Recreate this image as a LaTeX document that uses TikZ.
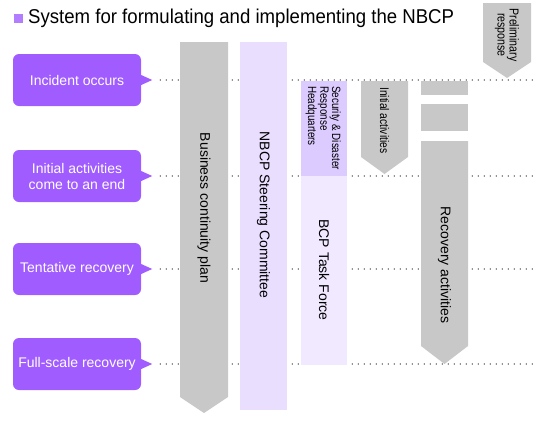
\documentclass[tikz,border=0pt]{standalone}
\usepackage{fontspec}
\setmainfont{Liberation Sans}
\newfontfamily\narrowfont[FakeStretch=0.82]{Liberation Sans}
\newfontfamily\titlefont[FakeStretch=0.93]{Liberation Sans}
\definecolor{bubble}{HTML}{A05CFF}
\definecolor{colgray}{HTML}{C8C8C8}
\definecolor{steer}{HTML}{EADEFF}
\definecolor{hq}{HTML}{DCCBFF}
\definecolor{task}{HTML}{F1E9FF}
\tikzset{
  event/.style={fill=bubble, rounded corners=6pt, minimum width=128pt,
    minimum height=52pt, text=white, align=center, inner sep=0pt,
    font=\fontsize{14}{16}\selectfont},
  timeline/.style={line cap=round, dash pattern=on 0pt off 6pt, line width=1.2pt},
  vlabel/.style={rotate=-90, inner sep=0pt, font=\fontsize{14}{16}\selectfont},
  nlabel/.style={rotate=-90, inner sep=0pt, font=\narrowfont\fontsize{12.5}{10}\selectfont}
}
\begin{document}
\begin{tikzpicture}[x=1pt, y=-1pt]
  \useasboundingbox (0,0) rectangle (543,434);
  % Title
  \fill[bubble!80] (14,14) rectangle (23,23);
  \node[anchor=west, inner sep=0pt, font=\titlefont\fontsize{20}{22}\selectfont] (title) at (28,18.5)
    {System for formulating and implementing the NBCP};
  % Phases on the left
  \node[event] (ev1) at (77,80) {Incident occurs};
  \node[event] (ev2) at (77,176) {Initial activities\\come to an end};
  \node[event] (ev3) at (77,269) {Tentative recovery};
  \node[event] (ev4) at (77,364) {Full-scale recovery};
  \fill[bubble] (ev1.east) ++(0,-5) -- ++(11,5) coordinate (t1) -- ++(-11,5) -- cycle;
  \fill[bubble] (ev2.east) ++(0,-5) -- ++(11,5) coordinate (t2) -- ++(-11,5) -- cycle;
  \fill[bubble] (ev3.east) ++(0,-5) -- ++(11,5) coordinate (t3) -- ++(-11,5) -- cycle;
  \fill[bubble] (ev4.east) ++(0,-5) -- ++(11,5) coordinate (t4) -- ++(-11,5) -- cycle;
  % Dotted time lines
  \coordinate (e1) at (535,80);
  \coordinate (e2) at (535,176);
  \coordinate (e3) at (535,269);
  \coordinate (e4) at (535,364);
  \draw[timeline] ([xshift=8pt]t1) -- (e1);
  \draw[timeline] ([xshift=8pt]t2) -- (e2);
  \draw[timeline] ([xshift=8pt]t3) -- (e3);
  \draw[timeline] ([xshift=8pt]t4) -- (e4);
  % Business continuity plan
  \fill[colgray] (180,42) -- (228,42) -- (228,397) -- (204,413) -- (180,397) -- cycle;
  \node[vlabel] (bcplan) at (204,208) {Business continuity plan};
  % Steering committee
  \fill[steer] (240,42) rectangle (287,410);
  \node[vlabel] (steering) at (263.5,215) {NBCP Steering Committee};
  % Headquarters and task force
  \fill[hq] (301,81) rectangle (347,176);
  \fill[task] (301,176) rectangle (347,365);
  \node[nlabel, anchor=north west, align=left, font=\narrowfont\fontsize{12}{10.5}\selectfont]
    (hqlabel) at (341,86) {Security \& Disaster\\Response\\Headquarters};
  \node[vlabel] (taskforce) at (324,270) {BCP Task Force};
  % Initial activities
  \fill[colgray] (361,81) -- (408,81) -- (408,157) -- (384.5,174) -- (361,157) -- cycle;
  \node[nlabel, anchor=west] (initial) at (384.5,87) {Initial activities};
  % Recovery activities
  \fill[colgray] (421,81) rectangle (468,95);
  \fill[colgray] (421,104) rectangle (468,131);
  \fill[colgray] (421,141) -- (468,141) -- (468,346) -- (444.5,364) -- (421,346) -- cycle;
  \node[vlabel] (recovery) at (444.5,265) {Recovery activities};
  % Preliminary response
  \fill[colgray] (483,3) -- (531,3) -- (531,62) -- (507,78) -- (483,62) -- cycle;
  \node[nlabel, align=center, font=\narrowfont\fontsize{13}{12}\selectfont] (prelim) at (507,35)
    {Preliminary\\response};
\end{tikzpicture}
\end{document}
